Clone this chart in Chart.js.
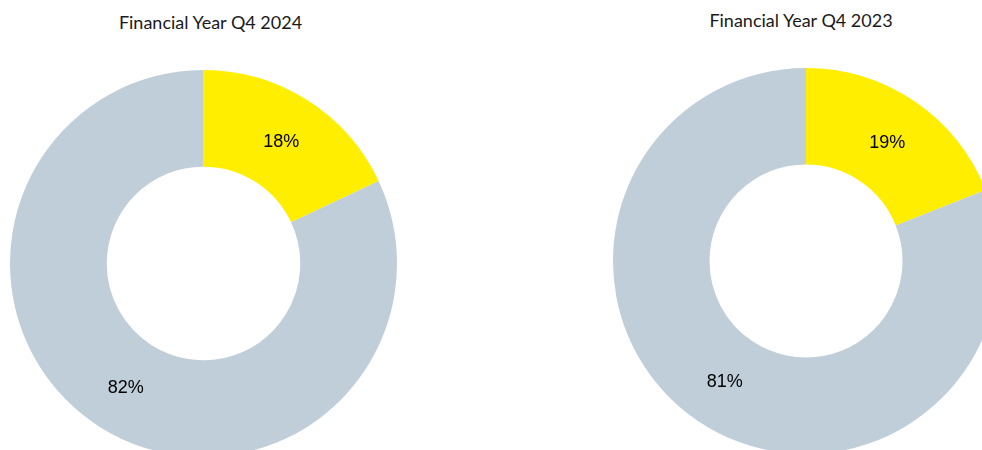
<!DOCTYPE html>
<html>
<head>
<meta charset="utf-8">
<script src="https://cdn.jsdelivr.net/npm/chart.js@4/dist/chart.umd.min.js"></script>
<style>
    html, body { margin: 0; padding: 0; background: #ffffff; overflow: hidden; width: 982px; height: 450px; }
    .title { position: absolute; font-family: Lato, "Open Sans", sans-serif; font-weight: 400; font-size: 18px; color: #1a1a1a; white-space: nowrap; transform: translateX(-50%); }
    .box { position: absolute; }
</style>
</head>
<body>
<div class="title" style="left:210.5px; top:11px;">Financial Year Q4 2024</div>
<div class="title" style="left:801px; top:9px;">Financial Year Q4 2023</div>
<div class="box" style="left:10px; top:70px; width:387px; height:387px;"><canvas id="pie2024"></canvas></div>
<div class="box" style="left:613px; top:68px; width:386px; height:386px;"><canvas id="pie2023"></canvas></div>
<script>
// данные
const segments = ['Share', 'Rest'];
const values2024 = [18, 82];
const values2023 = [19, 81];
const segColors = ['#FFEE00', '#C0CEDA'];

// подписи процентов в середине сегментов
const pctLabels = {
    id: 'pctLabels',
    afterDatasetsDraw(chart) {
        let ctx = chart.ctx;
        let ds = chart.data.datasets[0];
        chart.getDatasetMeta(0).data.forEach((arc, i) => {
            let p = arc.tooltipPosition();
            ctx.save();
            ctx.font = '18px "Liberation Sans", Arial, sans-serif';
            ctx.fillStyle = '#000000';
            ctx.textAlign = 'center';
            ctx.textBaseline = 'middle';
            ctx.fillText(ds.data[i] + '%', p.x, p.y + 1.5);
            ctx.restore();
        });
    }
};

function makeDonut(id, values) {
    let ctx = document.getElementById(id);
    return new Chart(ctx, {
        type: 'doughnut',
        data: {
            labels: segments,
            datasets: [{
                data: values,
                backgroundColor: segColors,
                borderWidth: 0,
            }]
        },
        options: {
            responsive: true,
            maintainAspectRatio: false,
            animation: false,
            cutout: '50%',
            layout: { padding: 0 },
            plugins: {
                legend: { display: false },
                tooltip: { enabled: false },
                title: { display: false }
            }
        },
        plugins: [pctLabels]
    });
}

makeDonut('pie2024', values2024);
makeDonut('pie2023', values2023);
</script>
</body>
</html>
